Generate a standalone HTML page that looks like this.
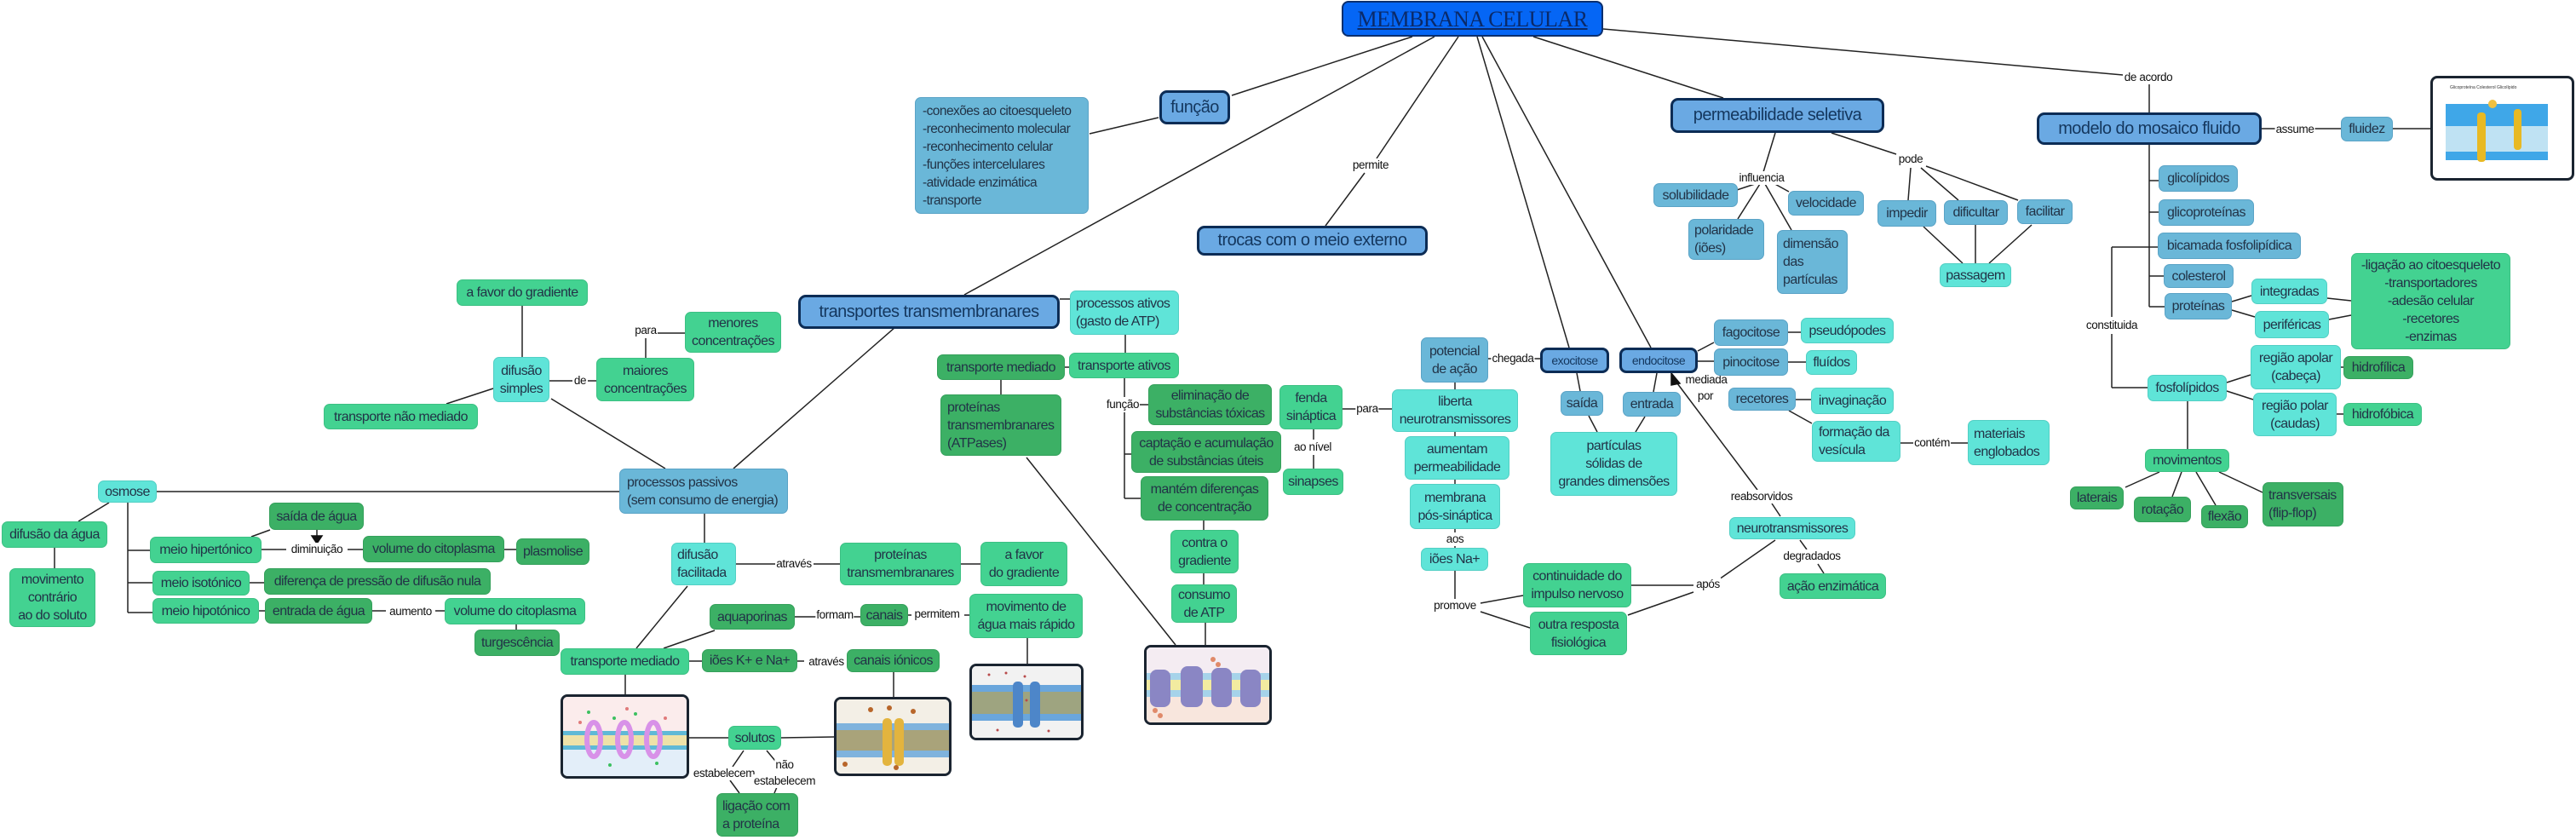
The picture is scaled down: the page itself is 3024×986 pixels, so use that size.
<!DOCTYPE html>
<html><head><meta charset="utf-8">
<style>
html,body{margin:0;padding:0;background:#fff;}
body{width:3024px;height:986px;position:relative;overflow:hidden;font-family:"Liberation Sans",sans-serif;}
.n{position:absolute;box-sizing:border-box;display:flex;align-items:center;justify-content:center;text-align:center;font-size:16px;letter-spacing:-0.55px;line-height:21px;color:#223347;border-radius:7px;border:1px solid rgba(0,0,0,0.12);white-space:nowrap;}
.b{background:#6ab7d8;border-color:#5aa3c6;}
.c{background:#5fe4d8;border-color:#52cfc4;}
.g{background:#43d291;border-color:#3cc083;}
.d{background:#3cb065;border-color:#35a05b;}
.h{background:#6aa9e3;border:3px solid #0c2c55;border-radius:9px;font-size:20px;color:#14375e;}
.hs{background:#6aa9e3;border:3px solid #0c2c55;border-radius:8px;font-size:14px;color:#14375e;}
.l{position:absolute;font-size:13.5px;letter-spacing:-0.4px;color:#111;background:#fff;padding:0 1px;line-height:16px;transform:translate(-50%,-50%);white-space:nowrap;}
.im{position:absolute;box-sizing:border-box;border:3px solid #1a2430;border-radius:8px;background:#fff;overflow:hidden;}
</style></head><body>
<svg width="3024" height="986" style="position:absolute;left:0;top:0" stroke="#222" stroke-width="1.5" fill="none">
<line x1="1658" y1="43" x2="1446" y2="112"/>
<line x1="1360" y1="138" x2="1279" y2="157"/>
<line x1="1684" y1="43" x2="1132" y2="346"/>
<line x1="1712" y1="43" x2="1616" y2="186"/>
<line x1="1602" y1="203" x2="1556" y2="265"/>
<line x1="1734" y1="43" x2="1842" y2="408"/>
<line x1="1740" y1="43" x2="1938" y2="408"/>
<line x1="1800" y1="43" x2="2023" y2="115"/>
<line x1="1882" y1="34" x2="2492" y2="88"/>
<line x1="2523" y1="98" x2="2523" y2="132"/>
<line x1="2084" y1="156" x2="2070" y2="202"/>
<line x1="2060" y1="216" x2="2030" y2="226"/>
<line x1="2066" y1="216" x2="2040" y2="257"/>
<line x1="2072" y1="216" x2="2103" y2="270"/>
<line x1="2080" y1="214" x2="2100" y2="225"/>
<line x1="2150" y1="156" x2="2226" y2="181"/>
<line x1="2243" y1="197" x2="2240" y2="235"/>
<line x1="2255" y1="197" x2="2299" y2="235"/>
<line x1="2261" y1="195" x2="2369" y2="235"/>
<line x1="2258" y1="266" x2="2304" y2="309"/>
<line x1="2319" y1="264" x2="2319" y2="309"/>
<line x1="2385" y1="264" x2="2335" y2="309"/>
<line x1="2655" y1="151" x2="2673" y2="151"/>
<line x1="2716" y1="151" x2="2748" y2="151"/>
<line x1="2809" y1="151" x2="2853" y2="151"/>
<line x1="2523" y1="170" x2="2523" y2="360"/>
<line x1="2523" y1="212" x2="2534" y2="212"/>
<line x1="2523" y1="249" x2="2534" y2="249"/>
<line x1="2479" y1="290" x2="2533" y2="290"/>
<line x1="2523" y1="324" x2="2540" y2="324"/>
<line x1="2523" y1="360" x2="2541" y2="360"/>
<line x1="2479" y1="290" x2="2479" y2="372"/>
<line x1="2479" y1="392" x2="2479" y2="455"/>
<line x1="2479" y1="455" x2="2521" y2="455"/>
<line x1="2620" y1="354" x2="2643" y2="347"/>
<line x1="2620" y1="364" x2="2647" y2="372"/>
<line x1="2732" y1="350" x2="2760" y2="353"/>
<line x1="2734" y1="375" x2="2760" y2="370"/>
<line x1="2614" y1="449" x2="2642" y2="440"/>
<line x1="2614" y1="459" x2="2645" y2="469"/>
<line x1="2748" y1="431" x2="2751" y2="431"/>
<line x1="2743" y1="486" x2="2751" y2="486"/>
<line x1="2568" y1="471" x2="2568" y2="527"/>
<line x1="2535" y1="554" x2="2495" y2="572"/>
<line x1="2561" y1="554" x2="2550" y2="583"/>
<line x1="2578" y1="554" x2="2601" y2="593"/>
<line x1="2605" y1="554" x2="2656" y2="578"/>
<line x1="1747" y1="421" x2="1752" y2="421"/>
<line x1="1801" y1="421" x2="1808" y2="421"/>
<line x1="1708" y1="449" x2="1708" y2="457"/>
<line x1="1708" y1="507" x2="1708" y2="512"/>
<line x1="1708" y1="563" x2="1708" y2="568"/>
<line x1="1708" y1="621" x2="1708" y2="626"/>
<line x1="1708" y1="640" x2="1708" y2="643"/>
<line x1="1708" y1="670" x2="1708" y2="703"/>
<line x1="1738" y1="708" x2="1788" y2="699"/>
<line x1="1738" y1="718" x2="1796" y2="737"/>
<line x1="1915" y1="687" x2="1988" y2="687"/>
<line x1="1911" y1="722" x2="1988" y2="695"/>
<line x1="2018" y1="680" x2="2084" y2="634"/>
<line x1="2113" y1="634" x2="2121" y2="645"/>
<line x1="2134" y1="662" x2="2141" y2="673"/>
<line x1="2090" y1="606" x2="2080" y2="591"/>
<line x1="2063" y1="575" x2="1966" y2="446"/>
<polygon points="1962,438 1972,450 1962,452" fill="#111" stroke="#111"/>
<line x1="1851" y1="438" x2="1855" y2="459"/>
<line x1="1865" y1="488" x2="1875" y2="507"/>
<line x1="1931" y1="489" x2="1920" y2="507"/>
<line x1="1945" y1="438" x2="1941" y2="460"/>
<line x1="1993" y1="412" x2="2012" y2="402"/>
<line x1="1993" y1="424" x2="2012" y2="424"/>
<line x1="2099" y1="390" x2="2114" y2="390"/>
<line x1="2099" y1="425" x2="2120" y2="425"/>
<line x1="2108" y1="469" x2="2126" y2="469"/>
<line x1="2100" y1="482" x2="2127" y2="497"/>
<line x1="2231" y1="520" x2="2246" y2="520"/>
<line x1="2290" y1="520" x2="2310" y2="520"/>
<line x1="1244" y1="351" x2="1256" y2="351"/>
<line x1="1321" y1="393" x2="1321" y2="414"/>
<line x1="1250" y1="431" x2="1255" y2="431"/>
<line x1="1175" y1="446" x2="1175" y2="463"/>
<line x1="1320" y1="444" x2="1320" y2="466"/>
<line x1="1320" y1="484" x2="1320" y2="585"/>
<line x1="1338" y1="475" x2="1348" y2="475"/>
<line x1="1320" y1="533" x2="1328" y2="533"/>
<line x1="1320" y1="585" x2="1339" y2="585"/>
<line x1="1413" y1="611" x2="1413" y2="622"/>
<line x1="1413" y1="673" x2="1413" y2="686"/>
<line x1="1415" y1="731" x2="1415" y2="757"/>
<line x1="1205" y1="537" x2="1380" y2="757"/>
<line x1="1576" y1="480" x2="1592" y2="480"/>
<line x1="1618" y1="480" x2="1634" y2="480"/>
<line x1="1542" y1="504" x2="1542" y2="516"/>
<line x1="1542" y1="534" x2="1542" y2="550"/>
<line x1="1067" y1="370" x2="861" y2="550"/>
<line x1="647" y1="468" x2="781" y2="550"/>
<line x1="613" y1="359" x2="613" y2="419"/>
<line x1="579" y1="456" x2="524" y2="474"/>
<line x1="645" y1="447" x2="672" y2="447"/>
<line x1="690" y1="447" x2="700" y2="447"/>
<line x1="772" y1="391" x2="804" y2="391"/>
<line x1="758" y1="397" x2="758" y2="420"/>
<line x1="184" y1="577" x2="727" y2="577"/>
<line x1="128" y1="590" x2="92" y2="612"/>
<line x1="64" y1="643" x2="64" y2="667"/>
<line x1="150" y1="590" x2="150" y2="719"/>
<line x1="150" y1="646" x2="176" y2="646"/>
<line x1="150" y1="684" x2="179" y2="684"/>
<line x1="150" y1="719" x2="179" y2="719"/>
<line x1="295" y1="630" x2="317" y2="622"/>
<line x1="372" y1="622" x2="372" y2="630"/>
<polygon points="366,629 378,629 372,638" fill="#111" stroke="#111"/>
<line x1="307" y1="645" x2="336" y2="645"/>
<line x1="408" y1="645" x2="426" y2="645"/>
<line x1="592" y1="645" x2="606" y2="645"/>
<line x1="293" y1="684" x2="310" y2="684"/>
<line x1="304" y1="717" x2="311" y2="717"/>
<line x1="437" y1="717" x2="453" y2="717"/>
<line x1="511" y1="717" x2="522" y2="717"/>
<line x1="606" y1="733" x2="606" y2="739"/>
<line x1="827" y1="603" x2="827" y2="637"/>
<line x1="864" y1="662" x2="910" y2="662"/>
<line x1="955" y1="662" x2="986" y2="662"/>
<line x1="1128" y1="662" x2="1151" y2="662"/>
<line x1="807" y1="688" x2="747" y2="761"/>
<line x1="839" y1="740" x2="779" y2="761"/>
<line x1="933" y1="724" x2="958" y2="724"/>
<line x1="1002" y1="724" x2="1010" y2="724"/>
<line x1="1066" y1="722" x2="1070" y2="722"/>
<line x1="1132" y1="722" x2="1138" y2="722"/>
<line x1="1206" y1="749" x2="1206" y2="779"/>
<line x1="809" y1="776" x2="824" y2="776"/>
<line x1="936" y1="776" x2="944" y2="776"/>
<line x1="1049" y1="789" x2="1049" y2="818"/>
<line x1="734" y1="792" x2="734" y2="815"/>
<line x1="809" y1="866" x2="855" y2="866"/>
<line x1="917" y1="866" x2="979" y2="865"/>
<line x1="873" y1="881" x2="860" y2="900"/>
<line x1="857" y1="916" x2="868" y2="931"/>
<line x1="900" y1="881" x2="910" y2="893"/>
<line x1="912" y1="924" x2="909" y2="931"/>
</svg>

<div class="n" style="left:1575px;top:1px;width:307px;height:42px;background:#0566f5;border:2px solid #0b2f6e;border-radius:8px;font-family:'Liberation Serif',serif;font-size:26px;letter-spacing:-0.5px;color:#0a2a6a;text-decoration:underline;">MEMBRANA CELULAR</div>
<div class="n h" style="left:1361px;top:106px;width:83px;height:40px;">função</div>
<div class="n b" style="left:1074px;top:114px;width:204px;height:137px;justify-content:flex-start;text-align:left;padding-left:8px;font-size:15.5px;">-conexões ao citoesqueleto<br>-reconhecimento molecular<br>-reconhecimento celular<br>-funções intercelulares<br>-atividade enzimática<br>-transporte</div>
<div class="l" style="left:1609px;top:194px;">permite</div>
<div class="n h" style="left:1405px;top:265px;width:271px;height:35px;">trocas com o meio externo</div>
<div class="n h" style="left:937px;top:346px;width:307px;height:40px;">transportes transmembranares</div>
<div class="n h" style="left:1961px;top:115px;width:251px;height:41px;">permeabilidade seletiva</div>
<div class="l" style="left:2522px;top:91px;">de acordo</div>
<div class="n h" style="left:2391px;top:132px;width:264px;height:38px;">modelo do mosaico fluido</div>
<div class="l" style="left:2694px;top:152px;">assume</div>
<div class="n b" style="left:2748px;top:137px;width:61px;height:29px;">fluidez</div>
<div class="im" style="left:2853px;top:89px;width:169px;height:123px;">
<svg width="163" height="117"><rect x="15" y="30" width="120" height="26" fill="#3fa7e8"/><rect x="15" y="56" width="120" height="30" fill="#bfe2f3"/><rect x="15" y="86" width="120" height="10" fill="#3fa7e8"/><rect x="52" y="40" width="10" height="58" rx="4" fill="#e8b923"/><rect x="95" y="36" width="9" height="48" rx="4" fill="#e8b923"/><circle cx="70" cy="30" r="5" fill="#f0c040"/><text x="20" y="12" font-size="5" fill="#333" font-family="Liberation Sans">Glicoproteína Colesterol Glicolípido</text></svg></div>
<div class="l" style="left:2068px;top:209px;">influencia</div>
<div class="n b" style="left:1941px;top:215px;width:99px;height:28px;">solubilidade</div>
<div class="n b" style="left:2099px;top:224px;width:89px;height:29px;">velocidade</div>
<div class="n b" style="left:1982px;top:257px;width:89px;height:48px;justify-content:flex-start;text-align:left;padding-left:6px;">polaridade<br>(iões)</div>
<div class="n b" style="left:2086px;top:270px;width:83px;height:75px;justify-content:flex-start;text-align:left;padding-left:6px;">dimensão<br>das<br>partículas</div>
<div class="l" style="left:2243px;top:187px;">pode</div>
<div class="n b" style="left:2204px;top:235px;width:69px;height:31px;">impedir</div>
<div class="n b" style="left:2282px;top:235px;width:75px;height:29px;">dificultar</div>
<div class="n b" style="left:2368px;top:234px;width:65px;height:29px;">facilitar</div>
<div class="n c" style="left:2277px;top:309px;width:84px;height:28px;">passagem</div>
<div class="n b" style="left:2534px;top:194px;width:93px;height:31px;">glicolípidos</div>
<div class="n b" style="left:2534px;top:234px;width:112px;height:31px;">glicoproteínas</div>
<div class="n b" style="left:2533px;top:273px;width:168px;height:31px;">bicamada fosfolipídica</div>
<div class="n b" style="left:2540px;top:310px;width:82px;height:28px;">colesterol</div>
<div class="n b" style="left:2541px;top:344px;width:79px;height:31px;">proteínas</div>
<div class="l" style="left:2479px;top:382px;">constituida</div>
<div class="n c" style="left:2643px;top:327px;width:89px;height:30px;">integradas</div>
<div class="n c" style="left:2647px;top:365px;width:87px;height:32px;">periféricas</div>
<div class="n g" style="left:2760px;top:297px;width:187px;height:113px;">-ligação ao citoesqueleto<br>-transportadores<br>-adesão celular<br>-recetores<br>-enzimas</div>
<div class="n c" style="left:2521px;top:440px;width:93px;height:31px;">fosfolípidos</div>
<div class="n c" style="left:2642px;top:405px;width:106px;height:52px;">região apolar<br>(cabeça)</div>
<div class="n d" style="left:2751px;top:418px;width:82px;height:27px;">hidrofílica</div>
<div class="n c" style="left:2645px;top:461px;width:98px;height:51px;">região polar<br>(caudas)</div>
<div class="n g" style="left:2751px;top:473px;width:92px;height:27px;">hidrofóbica</div>
<div class="n g" style="left:2518px;top:527px;width:99px;height:27px;">movimentos</div>
<div class="n d" style="left:2430px;top:571px;width:63px;height:27px;">laterais</div>
<div class="n d" style="left:2505px;top:583px;width:67px;height:30px;">rotação</div>
<div class="n d" style="left:2584px;top:593px;width:55px;height:27px;">flexão</div>
<div class="n d" style="left:2656px;top:566px;width:95px;height:52px;justify-content:flex-start;text-align:left;padding-left:6px;">transversais<br>(flip-flop)</div>
<div class="n b" style="left:1668px;top:396px;width:79px;height:53px;">potencial<br>de ação</div>
<div class="l" style="left:1776px;top:421px;">chegada</div>
<div class="n hs" style="left:1808px;top:408px;width:81px;height:30px;">exocitose</div>
<div class="n hs" style="left:1901px;top:408px;width:92px;height:30px;">endocitose</div>
<div class="n b" style="left:1832px;top:459px;width:50px;height:29px;">saída</div>
<div class="n b" style="left:1905px;top:460px;width:68px;height:29px;">entrada</div>
<div class="n c" style="left:1820px;top:507px;width:149px;height:75px;">partículas<br>sólidas de<br>grandes dimensões</div>
<div class="n c" style="left:1634px;top:457px;width:148px;height:50px;">liberta<br>neurotransmissores</div>
<div class="n c" style="left:1649px;top:512px;width:123px;height:51px;">aumentam<br>permeabilidade</div>
<div class="n c" style="left:1655px;top:568px;width:106px;height:53px;">membrana<br>pós-sináptica</div>
<div class="l" style="left:1708px;top:633px;">aos</div>
<div class="n c" style="left:1668px;top:643px;width:79px;height:27px;">iões Na+</div>
<div class="l" style="left:1708px;top:711px;">promove</div>
<div class="n g" style="left:1788px;top:661px;width:127px;height:52px;">continuidade do<br>impulso nervoso</div>
<div class="n g" style="left:1796px;top:718px;width:114px;height:51px;">outra resposta<br>fisiológica</div>
<div class="l" style="left:2005px;top:686px;">após</div>
<div class="n c" style="left:2030px;top:607px;width:148px;height:26px;">neurotransmissores</div>
<div class="l" style="left:2068px;top:583px;">reabsorvidos</div>
<div class="l" style="left:2003px;top:446px;">mediada</div>
<div class="l" style="left:2002px;top:465px;">por</div>
<div class="l" style="left:2127px;top:653px;">degradados</div>
<div class="n g" style="left:2089px;top:673px;width:125px;height:30px;">ação enzimática</div>
<div class="n b" style="left:2012px;top:375px;width:87px;height:31px;">fagocitose</div>
<div class="n c" style="left:2114px;top:373px;width:109px;height:30px;">pseudópodes</div>
<div class="n b" style="left:2012px;top:409px;width:87px;height:32px;">pinocitose</div>
<div class="n c" style="left:2120px;top:411px;width:60px;height:29px;">fluídos</div>
<div class="n b" style="left:2029px;top:455px;width:79px;height:27px;">recetores</div>
<div class="n c" style="left:2126px;top:455px;width:97px;height:31px;">invaginação</div>
<div class="n c" style="left:2127px;top:494px;width:104px;height:48px;justify-content:flex-start;text-align:left;padding-left:7px;">formação da<br>vesícula</div>
<div class="l" style="left:2268px;top:520px;">contém</div>
<div class="n c" style="left:2310px;top:493px;width:96px;height:53px;justify-content:flex-start;text-align:left;padding-left:6px;">materiais<br>englobados</div>
<div class="n c" style="left:1256px;top:341px;width:128px;height:52px;justify-content:flex-start;text-align:left;padding-left:6px;">processos ativos<br>(gasto de ATP)</div>
<div class="n d" style="left:1100px;top:416px;width:150px;height:30px;">transporte mediado</div>
<div class="n g" style="left:1255px;top:414px;width:129px;height:30px;">transporte ativos</div>
<div class="n d" style="left:1104px;top:463px;width:142px;height:72px;justify-content:flex-start;text-align:left;padding-left:7px;">proteínas<br>transmembranares<br>(ATPases)</div>
<div class="l" style="left:1318px;top:475px;">função</div>
<div class="n d" style="left:1348px;top:451px;width:145px;height:48px;">eliminação de<br>substâncias tóxicas</div>
<div class="n d" style="left:1328px;top:506px;width:176px;height:49px;">captação e acumulação<br>de substâncias úteis</div>
<div class="n d" style="left:1339px;top:559px;width:150px;height:52px;">mantém diferenças<br>de concentração</div>
<div class="n g" style="left:1374px;top:622px;width:80px;height:51px;">contra o<br>gradiente</div>
<div class="n g" style="left:1375px;top:686px;width:77px;height:45px;">consumo<br>de ATP</div>
<div class="n g" style="left:1502px;top:452px;width:74px;height:52px;">fenda<br>sináptica</div>
<div class="l" style="left:1605px;top:480px;">para</div>
<div class="l" style="left:1541px;top:525px;">ao nível</div>
<div class="n g" style="left:1506px;top:550px;width:71px;height:31px;">sinapses</div>
<div class="im" style="left:1343px;top:757px;width:150px;height:94px;">
<svg width="144" height="88"><rect width="144" height="88" fill="#f4ecf2"/><rect y="30" width="144" height="8" fill="#a6d3ea"/><rect y="38" width="144" height="12" fill="#f2eba0"/><rect y="50" width="144" height="8" fill="#a6d3ea"/><rect y="58" width="144" height="30" fill="#f8e6dd"/>
<g fill="#8a86c4"><rect x="4" y="26" width="24" height="44" rx="8"/><rect x="40" y="22" width="26" height="48" rx="8"/><rect x="76" y="24" width="24" height="46" rx="8"/><rect x="110" y="26" width="24" height="44" rx="8"/></g>
<g fill="#e08a6a"><circle cx="78" cy="14" r="3"/><circle cx="84" cy="20" r="3"/><circle cx="10" cy="74" r="3"/><circle cx="16" cy="80" r="3"/></g></svg></div>
<div class="n g" style="left:536px;top:328px;width:154px;height:31px;">a favor do gradiente</div>
<div class="n g" style="left:804px;top:366px;width:113px;height:48px;">menores<br>concentrações</div>
<div class="l" style="left:758px;top:388px;">para</div>
<div class="n c" style="left:579px;top:419px;width:66px;height:53px;">difusão<br>simples</div>
<div class="l" style="left:681px;top:447px;">de</div>
<div class="n g" style="left:700px;top:420px;width:115px;height:51px;">maiores<br>concentrações</div>
<div class="n g" style="left:380px;top:474px;width:181px;height:30px;">transporte não mediado</div>
<div class="n b" style="left:727px;top:550px;width:198px;height:53px;justify-content:flex-start;text-align:left;padding-left:8px;">processos passivos<br>(sem consumo de energia)</div>
<div class="n c" style="left:115px;top:564px;width:69px;height:26px;">osmose</div>
<div class="n g" style="left:2px;top:612px;width:124px;height:31px;">difusão da água</div>
<div class="n g" style="left:11px;top:667px;width:101px;height:69px;">movimento<br>contrário<br>ao do soluto</div>
<div class="n g" style="left:176px;top:630px;width:131px;height:31px;">meio hipertónico</div>
<div class="n d" style="left:316px;top:590px;width:111px;height:32px;">saída de água</div>
<div class="l" style="left:372px;top:645px;">diminuição</div>
<div class="n d" style="left:426px;top:629px;width:166px;height:31px;">volume do citoplasma</div>
<div class="n d" style="left:606px;top:632px;width:86px;height:31px;">plasmolise</div>
<div class="n g" style="left:179px;top:670px;width:114px;height:29px;">meio isotónico</div>
<div class="n d" style="left:310px;top:667px;width:266px;height:31px;">diferença de pressão de difusão nula</div>
<div class="n g" style="left:179px;top:702px;width:125px;height:30px;">meio hipotónico</div>
<div class="n d" style="left:311px;top:702px;width:126px;height:30px;">entrada de água</div>
<div class="l" style="left:482px;top:718px;">aumento</div>
<div class="n g" style="left:522px;top:702px;width:165px;height:31px;">volume do citoplasma</div>
<div class="n d" style="left:557px;top:739px;width:100px;height:31px;">turgescência</div>
<div class="n c" style="left:788px;top:637px;width:76px;height:50px;justify-content:flex-start;text-align:left;padding-left:6px;">difusão<br>facilitada</div>
<div class="l" style="left:932px;top:662px;">através</div>
<div class="n g" style="left:986px;top:637px;width:142px;height:50px;">proteínas<br>transmembranares</div>
<div class="n g" style="left:1151px;top:636px;width:102px;height:52px;">a favor<br>do gradiente</div>
<div class="n d" style="left:833px;top:709px;width:100px;height:30px;">aquaporinas</div>
<div class="l" style="left:980px;top:722px;">formam</div>
<div class="n d" style="left:1010px;top:709px;width:56px;height:26px;">canais</div>
<div class="l" style="left:1100px;top:721px;">permitem</div>
<div class="n g" style="left:1138px;top:697px;width:133px;height:52px;">movimento de<br>água mais rápido</div>
<div class="n g" style="left:658px;top:761px;width:151px;height:31px;">transporte mediado</div>
<div class="n d" style="left:824px;top:762px;width:112px;height:27px;">iões K+ e Na+</div>
<div class="l" style="left:970px;top:777px;">através</div>
<div class="n d" style="left:994px;top:762px;width:109px;height:27px;">canais iónicos</div>
<div class="im" style="left:658px;top:815px;width:151px;height:99px;">
<svg width="145" height="93"><rect width="145" height="50" fill="#fbecec"/><rect y="50" width="145" height="43" fill="#e3eef9"/><rect y="40" width="145" height="5" fill="#5fb9d6"/><rect y="45" width="145" height="12" fill="#eee2a8"/><rect y="57" width="145" height="5" fill="#5fb9d6"/>
<g fill="none" stroke="#d891e8" stroke-width="6"><ellipse cx="36" cy="50" rx="8" ry="20"/><ellipse cx="72" cy="50" rx="8" ry="20"/><ellipse cx="106" cy="50" rx="8" ry="20"/></g>
<g fill="#3cc060"><circle cx="30" cy="18" r="2"/><circle cx="60" cy="25" r="2"/><circle cx="85" cy="20" r="2"/><circle cx="55" cy="80" r="2"/><circle cx="110" cy="78" r="2"/></g>
<g fill="#e07a7a"><circle cx="20" cy="30" r="2"/><circle cx="75" cy="14" r="2"/><circle cx="120" cy="25" r="2"/></g></svg></div>
<div class="n g" style="left:855px;top:852px;width:62px;height:28px;">solutos</div>
<div class="l" style="left:850px;top:908px;">estabelecem</div>
<div class="l" style="left:921px;top:898px;">não</div>
<div class="l" style="left:921px;top:917px;">estabelecem</div>
<div class="n d" style="left:841px;top:931px;width:96px;height:51px;justify-content:flex-start;text-align:left;padding-left:6px;">ligação com<br>a proteína</div>
<div class="im" style="left:979px;top:818px;width:138px;height:93px;">
<svg width="132" height="87"><rect width="132" height="87" fill="#f3efe6"/><rect y="28" width="132" height="8" fill="#7fb3dd"/><rect y="36" width="132" height="24" fill="#a9a37a"/><rect y="60" width="132" height="8" fill="#7fb3dd"/><rect x="54" y="22" width="11" height="56" rx="5" fill="#e3b43e"/><rect x="68" y="22" width="11" height="56" rx="5" fill="#e3b43e"/><g fill="#b8662a"><circle cx="40" cy="12" r="3"/><circle cx="62" cy="10" r="3"/><circle cx="90" cy="14" r="3"/><circle cx="10" cy="76" r="3"/><circle cx="70" cy="80" r="3"/></g></svg></div>
<div class="im" style="left:1138px;top:779px;width:134px;height:90px;">
<svg width="128" height="84"><rect width="128" height="84" fill="#f2f2f2"/><rect y="22" width="128" height="8" fill="#6aa6dc"/><rect y="30" width="128" height="26" fill="#9ea480"/><rect y="56" width="128" height="8" fill="#6aa6dc"/><rect x="48" y="18" width="12" height="54" rx="5" fill="#4d86c9"/><rect x="68" y="18" width="12" height="54" rx="5" fill="#4d86c9"/><g fill="#b84a4a"><circle cx="20" cy="10" r="1.5"/><circle cx="40" cy="8" r="1.5"/><circle cx="62" cy="12" r="1.5"/><circle cx="64" cy="40" r="1.5"/><circle cx="30" cy="75" r="1.5"/><circle cx="90" cy="76" r="1.5"/></g></svg></div>
</body></html>
